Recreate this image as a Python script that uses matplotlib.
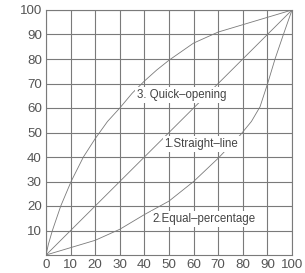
import matplotlib
matplotlib.use("Agg")
import matplotlib.pyplot as plt

# Data
straight_x = [0, 100]
straight_y = [0, 100]
quick_x = [0, 1, 2.6, 6, 10.2, 15.2, 20, 25, 30, 35, 40, 45, 50, 60, 70, 80, 90, 100]
quick_y = [0, 4.5, 10, 20, 30, 40, 47.5, 54.5, 60, 66, 71, 75.5, 79.5, 86.5, 91, 94, 97, 100]
equal_x = [0, 10, 20, 30, 40, 50, 60, 70, 79, 83.5, 87, 90.1, 93.1, 96.5, 100]
equal_y = [0, 3, 6, 10.5, 16.5, 22, 30, 39.5, 49, 54.5, 60.5, 70, 80, 90, 100]
x_ticks = [0, 10, 20, 30, 40, 50, 60, 70, 80, 90, 100]
y_ticks = [10, 20, 30, 40, 50, 60, 70, 80, 90, 100]
labels = ["3. Quick\u2013opening", "1.Straight\u2013line", "2.Equal\u2013percentage"]
label_pos = [(55.1, 65.3), (63.1, 45.3), (64.2, 14.7)]

plt.rcParams['font.family'] = ['Liberation Sans', 'DejaVu Sans']

fig = plt.figure(figsize=(3.05, 2.73), dpi=100)
ax = fig.add_axes([46/305, 18/273, 246/305, 245/273])

grid_c = '#7a7a7a'
ax.set_xlim(0, 100)
ax.set_ylim(0, 100)
ax.set_xticks(x_ticks)
ax.set_yticks(y_ticks)
ax.grid(True, color=grid_c, linewidth=0.8)
ax.set_axisbelow(True)
for s in ax.spines.values():
    s.set_color(grid_c)
    s.set_linewidth(0.8)
ax.tick_params(length=0, labelsize=9.6, colors='#555555', pad=3)

line_c = '#7a7a7a'
for xs, ys in [(straight_x, straight_y), (quick_x, quick_y), (equal_x, equal_y)]:
    ax.plot(xs, ys, color=line_c, linewidth=0.6, zorder=2)

for txt, (x, y) in zip(labels, label_pos):
    ax.text(x, y, txt, ha='center', va='center', fontsize=8.3, color='#444444',
            zorder=3, bbox=dict(facecolor='white', edgecolor='none', pad=1.2))

fig.savefig('out.png', dpi=100)
